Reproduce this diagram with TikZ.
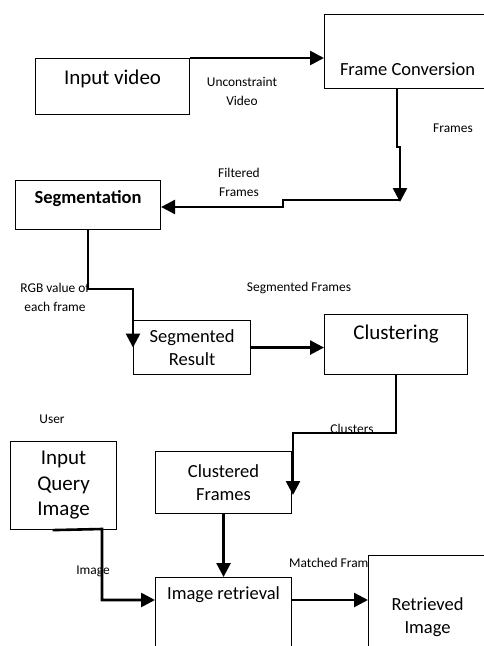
\documentclass[tikz,border=0pt]{standalone}
\usepackage{fontspec}
\setmainfont{Carlito}
\usepackage{tikz}
\usetikzlibrary{
  positioning,
  calc,
  arrows.meta
}
\tikzstyle{box}=[draw, line width=1.1pt, fill=white, inner sep=0pt, anchor=north west]
\tikzstyle{boxtext}=[font=\fontsize{18.5}{23}\selectfont, align=center, inner sep=0pt]
\tikzstyle{bigtext}=[font=\fontsize{21}{25.5}\selectfont, align=center, inner sep=0pt]
\tikzstyle{note}=[font=\fontsize{13.4}{19}\selectfont, align=center, inner sep=0pt]
\tikzstyle{flow}=[line width=2.6pt, -{Triangle[length=14pt, width=14pt]}]

\begin{document}
\begin{tikzpicture}[x=1pt, y=-1pt]
  \useasboundingbox (0,0) rectangle (484,646);
  \clip (0,0) rectangle (484,646);

  % 矢印に付くラベル
  \node[note] (lblVideo) at (242,91) {Unconstraint\\Video};
  \node[note] (lblFrames) at (453,128) {Frames};
  \node[note] (lblFiltered) at (239,182) {Filtered\\Frames};
  \node[note] (lblRGB) at (55,297) {RGB value of\\each frame};
  \node[note] (lblSegmented) at (299,288) {Segmented Frames};
  \node[note] (lblUser) at (52,419) {User};
  \node[note] (lblClusters) at (352,429) {Clusters};
  \node[note] (lblImage) at (93,571) {Image};
  \node[note, anchor=west] (lblMatched) at (289,563) {Matched Frames};

  % 処理の箱
  \node[box, minimum width=154pt, minimum height=56pt,
        label={[bigtext, yshift=8pt]center:Input video}] (video) at (35,58) {};
  \node[box, minimum width=166pt, minimum height=74pt,
        label={[boxtext, yshift=-18pt]center:Frame Conversion}] (conv) at (324,14) {};
  \node[box, minimum width=145pt, minimum height=49pt,
        label={[boxtext, font=\fontsize{18.5}{23}\selectfont\bfseries, yshift=6pt]center:Segmentation}] (seg) at (15,180) {};
  \node[box, minimum width=117pt, minimum height=54pt,
        label={[boxtext]center:Segmented\\Result}] (segres) at (133,320) {};
  \node[box, minimum width=143pt, minimum height=60pt,
        label={[bigtext, yshift=11pt]center:Clustering}] (clus) at (324,314) {};
  \node[box, minimum width=106pt, minimum height=88pt,
        label={[bigtext]center:Input\\Query\\Image}] (query) at (10,441) {};
  \node[box, minimum width=136pt, minimum height=62pt,
        label={[boxtext]center:Clustered\\Frames}] (clusf) at (155,451) {};
  \node[box, minimum width=136pt, minimum height=100pt,
        label={[boxtext, yshift=33pt]center:Image retrieval}] (ret) at (155,577) {};
  \node[box, minimum width=118pt, minimum height=100pt,
        label={[boxtext, yshift=-12pt]center:Retrieved\\Image}] (retimg) at (368,555) {};

  % 折れ曲がりの先端
  \coordinate (filt) at (400,202);
  \coordinate (clusIn) at (293,495);

  % 流れを表す矢印
  \draw[flow] (video.north east) -- (video.north east -| conv.west);
  \draw[flow] (conv.south -| 397,0) -- (397,147) -- (400,147) -- (filt);
  \draw[flow] (400,200) -- (283,200) -- (283,207) -- (seg.east |- 0,207);
  \draw[flow] (seg.south) |- (segres.west |- 0,289) -- (segres.west);
  \draw[flow] (segres.east) -- (segres.east -| clus.west);
  \draw[flow] (clus.south) -- (clus.south |- 0,433) -| (clusIn);
  \draw[flow] (clusf.south) -- (ret.north);
  \draw[flow] ([xshift=-11pt]query.south) -- (102,529) |- (ret.west |- 0,600);
  \draw[flow] (ret.east |- 0,600) -- (retimg.west |- 0,600);
\end{tikzpicture}
\end{document}
